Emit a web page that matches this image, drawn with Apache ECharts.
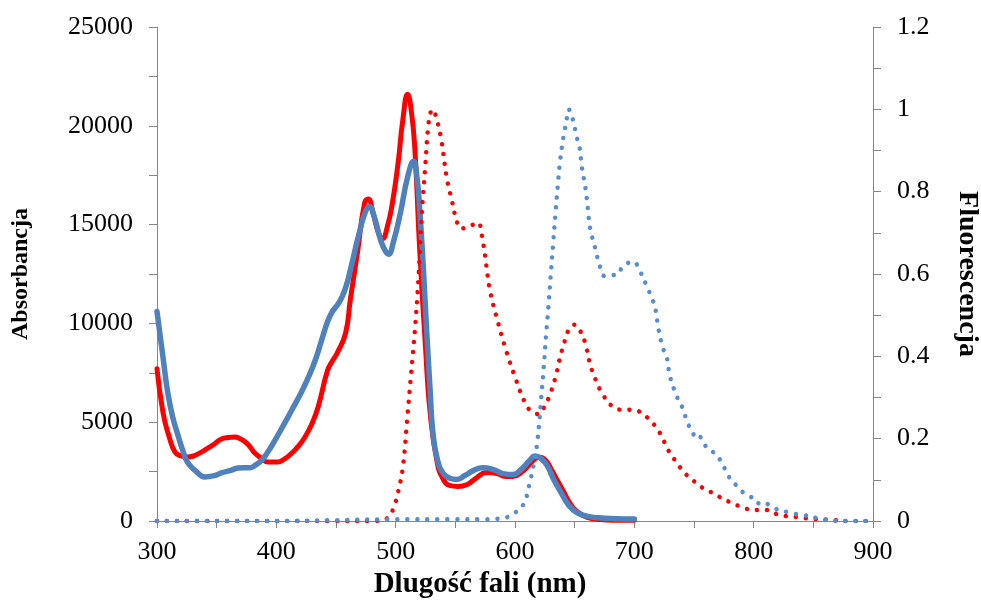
<!DOCTYPE html>
<html>
<head>
<meta charset="utf-8">
<script src="https://cdn.jsdelivr.net/npm/echarts@6/dist/echarts.min.js"></script>
<style>
  html, body { margin: 0; padding: 0; background: #fff; }
  #chart { width: 981px; height: 610px; }
</style>
</head>
<body>
<div id="chart"></div>
<script>
// Absorption spectra (left axis) and fluorescence spectra (right axis)
var redAbsX = [300, 305, 310, 315, 320, 326, 333, 340, 347, 354, 360, 365, 370, 374, 378, 382, 387, 393, 401, 407, 413, 418, 424, 430, 435, 443, 447, 451, 458, 462, 468, 474, 477, 481, 486, 489, 493, 497, 502, 506, 510, 513, 516, 520, 525, 529, 535, 540, 545, 552, 560, 568, 576, 585, 592, 598, 605, 612, 617, 621, 626, 631, 636, 640, 646, 652, 660, 671, 685, 700];
var redAbsY = [7700, 5500, 4300, 3500, 3300, 3240, 3350, 3590, 3850, 4150, 4230, 4250, 4150, 4000, 3750, 3440, 3200, 2990, 2990, 3150, 3440, 3750, 4250, 4950, 5770, 7640, 8100, 8500, 9510, 11200, 13600, 16100, 16300, 15600, 14500, 14300, 14900, 16000, 18100, 20300, 21600, 20800, 18900, 13900, 8800, 5400, 2900, 2100, 1800, 1750, 1850, 2200, 2450, 2400, 2250, 2250, 2450, 2850, 3150, 3220, 3050, 2550, 2000, 1570, 900, 480, 200, 70, 40, 35];

var blueAbsX = [300, 305, 309, 313, 318, 322, 326, 333, 340, 347, 354, 361, 368, 373, 378, 383, 388, 393, 399, 406, 413, 420, 427, 433, 438, 443, 447, 453, 458, 462, 470, 475, 478, 482, 487, 491, 494, 498, 504, 510, 515, 518, 520, 523, 526, 529, 531, 535, 540, 546, 551, 558, 565, 573, 582, 590, 598, 605, 612, 617, 622, 627, 632, 638, 645, 652, 660, 670, 685, 700];
var blueAbsY = [10600, 8300, 6500, 5300, 4250, 3500, 2930, 2500, 2230, 2280, 2430, 2550, 2680, 2700, 2700, 2850, 3090, 3500, 4100, 4850, 5620, 6400, 7290, 8200, 9160, 10100, 10600, 11100, 11800, 12700, 14700, 15700, 15900, 15400, 14300, 13700, 13500, 14100, 15600, 17400, 18200, 17300, 15900, 13000, 9600, 6500, 4600, 3100, 2400, 2150, 2100, 2300, 2550, 2700, 2600, 2400, 2350, 2600, 3050, 3290, 3150, 2800, 2150, 1500, 800, 420, 250, 160, 120, 100];

var redFlX = [300, 350, 400, 450, 480, 489, 494, 498, 502, 506, 510, 513, 516, 519, 522, 525, 527, 529, 531, 534, 538, 543, 547, 551, 555, 560, 565, 569, 573, 576, 579, 586, 593, 600, 608, 614, 620, 625, 629, 634, 638, 642, 646, 650, 655, 659, 663, 668, 673, 681, 690, 700, 707, 713, 719, 723, 727, 731, 736, 741, 747, 753, 760, 766, 773, 780, 788, 795, 804, 812, 819, 827, 835, 843, 851, 865, 875, 900];
var redFlY = [0, 0, 0, 0, 0, 0.002, 0.01, 0.03, 0.07, 0.13, 0.26, 0.36, 0.46, 0.585, 0.75, 0.87, 0.95, 0.99, 1.0, 0.98, 0.93, 0.83, 0.78, 0.73, 0.71, 0.715, 0.72, 0.725, 0.68, 0.62, 0.56, 0.48, 0.41, 0.35, 0.29, 0.265, 0.26, 0.28, 0.305, 0.35, 0.40, 0.44, 0.47, 0.477, 0.46, 0.43, 0.38, 0.34, 0.31, 0.28, 0.27, 0.27, 0.26, 0.245, 0.225, 0.205, 0.18, 0.16, 0.14, 0.12, 0.104, 0.09, 0.075, 0.068, 0.056, 0.046, 0.036, 0.029, 0.027, 0.027, 0.017, 0.012, 0.01, 0.007, 0.005, 0.003, 0, 0];

var blueFlX = [300, 400, 450, 500, 550, 573, 582, 591, 598, 605, 609, 611, 613, 615, 617, 619, 620, 622, 624, 626, 628, 630, 632, 634, 636, 638, 641, 643, 645, 648, 652, 654, 656, 659, 661, 663, 667, 671, 675, 680, 685, 691, 699, 705, 711, 715, 718, 720, 724, 727, 730, 736, 740, 745, 749, 752, 755, 757, 761, 768, 773, 777, 781, 786, 791, 798, 803, 808, 813, 819, 828, 835, 841, 853, 861, 875, 900];
var blueFlY = [0, 0, 0.002, 0.004, 0.004, 0.004, 0.005, 0.007, 0.017, 0.032, 0.053, 0.077, 0.10, 0.128, 0.155, 0.20, 0.228, 0.30, 0.37, 0.45, 0.52, 0.60, 0.675, 0.75, 0.82, 0.88, 0.94, 0.97, 1.0, 0.98, 0.93, 0.91, 0.86, 0.81, 0.76, 0.71, 0.665, 0.62, 0.595, 0.597, 0.598, 0.62, 0.63, 0.605, 0.566, 0.54, 0.51, 0.47, 0.42, 0.40, 0.35, 0.30, 0.277, 0.236, 0.214, 0.20, 0.204, 0.197, 0.177, 0.163, 0.143, 0.12, 0.10, 0.085, 0.07, 0.058, 0.043, 0.046, 0.039, 0.029, 0.022, 0.017, 0.015, 0.007, 0.002, 0, 0];

var xTitle = 'Dlugość fali (nm)';
var leftTitle = 'Absorbancja';
var rightTitle = 'Fluorescencja';

function pairs(xs, ys) {
  return xs.map(function (x, i) { return [x, ys[i]]; });
}

var FONT = '"Liberation Serif", "Times New Roman", serif';
var AXIS_GRAY = '#868686';
var RED = '#ff0000';
var BLUE = '#4f81bd';
var BLUE_DOT = '#558ed5';

var chart = echarts.init(document.getElementById('chart'), null, { renderer: 'canvas' });

var axisCommon = {
  axisLine: { show: true, lineStyle: { color: AXIS_GRAY, width: 1 } },
  axisTick: { show: true, inside: false, length: 8, lineStyle: { color: AXIS_GRAY, width: 1 } },
  splitLine: { show: false }
};

function titleStyle(size, padding) {
  return { fontFamily: FONT, fontSize: size, fontWeight: 'bold', color: '#000', padding: padding || 0 };
}

chart.setOption({
  animation: false,
  backgroundColor: '#fff',
  grid: { left: 157, right: 108, top: 27, bottom: 89, containLabel: false, outerBoundsMode: 'none' },
  xAxis: Object.assign({}, axisCommon, {
    type: 'value',
    min: 300, max: 900, interval: 50,
    name: xTitle,
    nameLocation: 'middle',
    nameGap: 46,
    nameTextStyle: titleStyle(29, [0, 70, 0, 0]),
    axisTick: { show: true, length: 7, lineStyle: { color: AXIS_GRAY, width: 1 } },
    axisLabel: {
      fontFamily: FONT, fontSize: 26, color: '#000', margin: 18,
      formatter: function (v) { return v % 100 === 0 ? String(v) : ''; }
    }
  }),
  yAxis: [
    Object.assign({}, axisCommon, {
      type: 'value',
      min: 0, max: 25000, interval: 2500,
      name: leftTitle,
      nameLocation: 'middle',
      nameGap: 124,
      nameTextStyle: titleStyle(24),
      axisLabel: {
        fontFamily: FONT, fontSize: 26, color: '#000', margin: 24,
        formatter: function (v) { return v % 5000 === 0 ? String(v) : ''; }
      }
    }),
    Object.assign({}, axisCommon, {
      type: 'value',
      position: 'right',
      min: 0, max: 1.2, interval: 0.1,
      name: rightTitle,
      nameLocation: 'middle',
      nameRotate: -90,
      nameGap: 80,
      nameTextStyle: titleStyle(28),
      axisLabel: {
        fontFamily: FONT, fontSize: 26, color: '#000', margin: 24,
        formatter: function (v) {
          var k = Math.round(v * 10);
          return k % 2 === 0 ? String(k / 10) : '';
        }
      }
    })
  ],
  series: [
    {
      type: 'line', yAxisIndex: 0, data: pairs(redAbsX, redAbsY),
      smooth: 0.5, showSymbol: false,
      lineStyle: { color: RED, width: 5, cap: 'round', join: 'round' }
    },
    {
      type: 'line', yAxisIndex: 0, data: pairs(blueAbsX, blueAbsY),
      smooth: 0.5, showSymbol: false,
      lineStyle: { color: BLUE, width: 5.5, cap: 'round', join: 'round' }
    },
    {
      type: 'line', yAxisIndex: 1, data: pairs(redFlX, redFlY),
      smooth: 0.4, showSymbol: false,
      lineStyle: { color: RED, width: 4.5, type: [0.01, 10], cap: 'round', join: 'round' }
    },
    {
      type: 'line', yAxisIndex: 1, data: pairs(blueFlX, blueFlY),
      smooth: 0.4, showSymbol: false,
      lineStyle: { color: BLUE_DOT, width: 4.5, type: [0.01, 10], cap: 'round', join: 'round' }
    }
  ]
});
</script>
</body>
</html>
